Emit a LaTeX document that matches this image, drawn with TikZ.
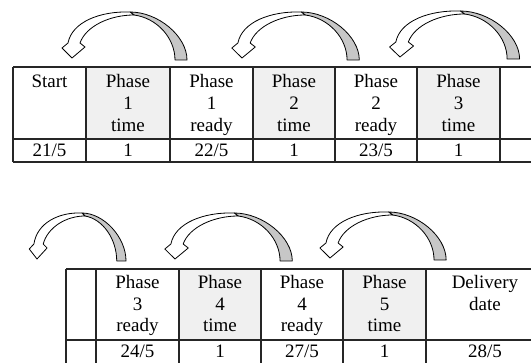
\documentclass[tikz,border=0pt]{standalone}
\usepackage{fontspec}
\setmainfont{Liberation Serif}
\begin{document}
\begin{tikzpicture}[x=1pt,y=-1pt,
  gridline/.style={draw=black!85, line width=1.3pt},
  cellshade/.style={fill=black!6},
  hdr/.style={font=\fontsize{19}{21.7}\selectfont, align=center, inner sep=0pt, anchor=north},
  val/.style={font=\fontsize{19}{21.7}\selectfont, inner sep=0pt, anchor=base},
  arrbody/.style={draw=black, line width=0.8pt, fill=white, line join=round},
  arrback/.style={draw=black, line width=0.8pt, fill=black!22, line join=round},
  pics/carrow/.style={code={
    \draw[arrback] (58,-46) .. controls (86,-46) and (115,-22) .. (115,2)
      -- (103,2) .. controls (103,-20) and (85,-40) .. (62,-43) -- cycle;
    \draw[arrbody] (-4,-15) .. controls (0,-36) and (28,-47) .. (58,-46)
      -- (62,-43) .. controls (38,-43) and (14,-32) .. (8,-15)
      -- (13,-11) -- (0,0) -- (-10,-10) -- cycle;
  }}
]
\clip (0,0) rectangle (531,363);

% ---------- top table ----------
\fill[cellshade] (86,67) rectangle (170,139);
\fill[cellshade] (253,67) rectangle (335,139);
\fill[cellshade] (417,67) rectangle (500,139);
\foreach \yy in {67,139,162} \draw[gridline] (13,\yy) -- (540,\yy);
\foreach \xx in {13,86,170,253,335,417,500} \draw[gridline] (\xx,67) -- (\xx,162);

\node[hdr] (t1) at (49.5,74.5) {Start};
\node[hdr] (t2) at (128,74.5) {Phase\\1\\time};
\node[hdr] (t3) at (211.5,74.5) {Phase\\1\\ready};
\node[hdr] (t4) at (294,74.5) {Phase\\2\\time};
\node[hdr] (t5) at (376,74.5) {Phase\\2\\ready};
\node[hdr] (t6) at (458.5,74.5) {Phase\\3\\time};

\node[val] (v1) at (49.5,157) {21/5};
\node[val] (v2) at (128,157) {1};
\node[val] (v3) at (211.5,157) {22/5};
\node[val] (v4) at (294,157) {1};
\node[val] (v5) at (376,157) {23/5};
\node[val] (v6) at (458.5,157) {1};

% ---------- bottom table ----------
\fill[cellshade] (179,269) rectangle (261,340);
\fill[cellshade] (343,269) rectangle (426,340);
\foreach \yy in {269,340} \draw[gridline] (66,\yy) -- (540,\yy);
\foreach \xx in {66,96,179,261,343,426} \draw[gridline] (\xx,269) -- (\xx,370);

\node[hdr] (b2) at (137.5,275) {Phase\\3\\ready};
\node[hdr] (b3) at (220,275) {Phase\\4\\time};
\node[hdr] (b4) at (302,275) {Phase\\4\\ready};
\node[hdr] (b5) at (384.5,275) {Phase\\5\\time};
\node[hdr] (b6) at (485,275) {Delivery\\date};

\node[val] (w2) at (137.5,358) {24/5};
\node[val] (w3) at (220,358) {1};
\node[val] (w4) at (302,358) {27/5};
\node[val] (w5) at (384.5,358) {1};
\node[val] (w6) at (485,358) {28/5};

% ---------- curved arrows ----------
\pic at (72,58) {carrow};
\pic[xscale=1.02] at (242,58) {carrow};
\pic[xscale=1.04] at (400,57) {carrow};
\pic[xscale=0.774] at (37,259) {carrow};
\pic[xscale=1.02] at (175,259) {carrow};
\pic[xscale=1.01] at (330,258) {carrow};
\end{tikzpicture}
\end{document}
